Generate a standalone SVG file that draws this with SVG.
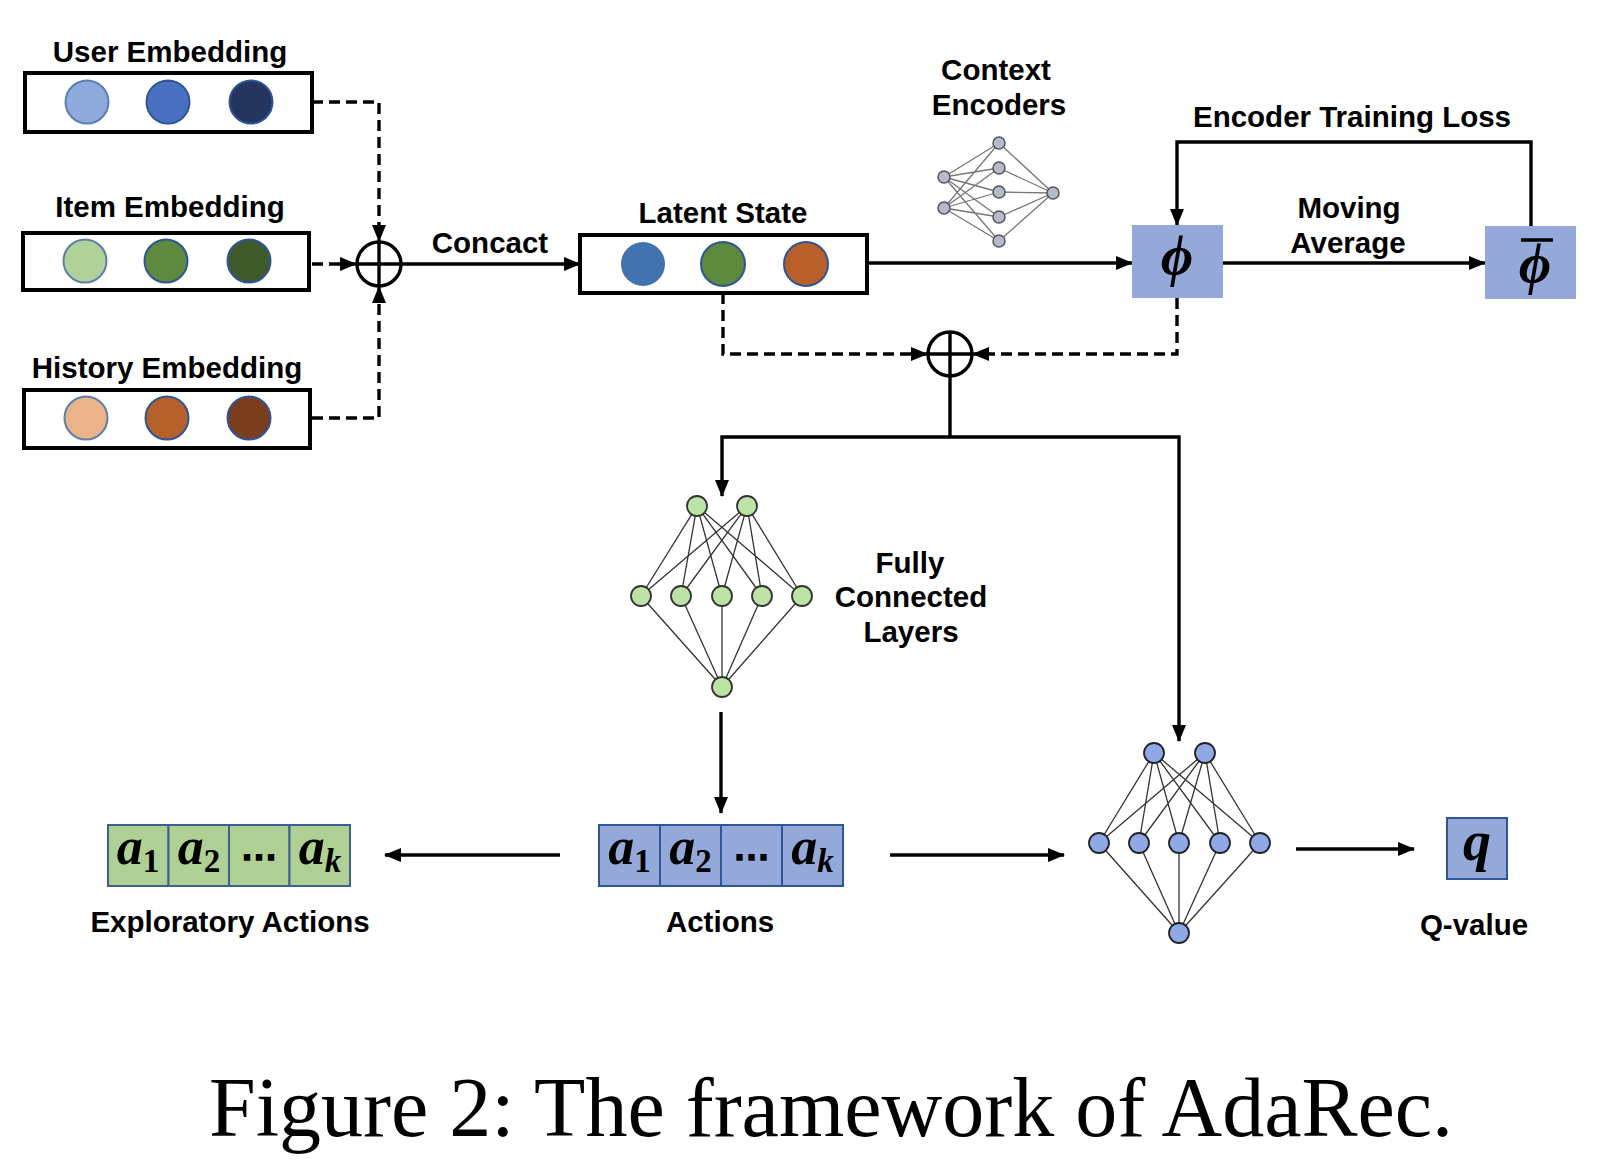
<svg xmlns="http://www.w3.org/2000/svg" width="1616" height="1174" viewBox="0 0 1616 1174">
<defs>
<marker id="ah" markerUnits="userSpaceOnUse" markerWidth="17" markerHeight="14" refX="16" refY="7" orient="auto">
<path d="M0,0 L17,7 L0,14 z" fill="#000"/>
</marker>
<style>
.lbl{font-family:"Liberation Sans",Arial,sans-serif;font-weight:bold;font-size:29.5px;fill:#000;text-anchor:middle}
.cap{font-family:"Liberation Serif","Times New Roman",serif;font-size:84px;fill:#000;text-anchor:middle}
.math{font-family:"Liberation Serif","DejaVu Serif",serif;font-weight:bold;font-style:italic;fill:#000;text-anchor:middle}
.sub{font-style:normal;font-size:33px}
.subi{font-style:italic;font-size:33px}
.dots{font-family:"DejaVu Sans",sans-serif;font-weight:bold;font-size:36px;fill:#000;text-anchor:middle}
.box{fill:#fff;stroke:#000;stroke-width:4}
.emb{stroke:#2F5597;stroke-width:2}
.solid{fill:none;stroke:#000;stroke-width:3.4;marker-end:url(#ah)}
.plain{fill:none;stroke:#000;stroke-width:3.4}
.dasha{fill:none;stroke:#000;stroke-width:3.4;stroke-dasharray:11 6;marker-end:url(#ah)}
.plus{fill:#fff;stroke:#000;stroke-width:3.4}
.phibox{fill:#94A9D9}
.cellb{fill:#94A9D9;stroke:#2F5597;stroke-width:2}
.cellg{fill:#AFD095;stroke:#3E5F8F;stroke-width:2}
.fcl{stroke:#333;stroke-width:1.3}
.fcg{fill:#BDE4A6;stroke:#333;stroke-width:1.8}
.fcb{fill:#8FA8E6;stroke:#222;stroke-width:1.8}
.cel{stroke:#777;stroke-width:1.3}
.cen{fill:#B5BBC9;stroke:#555;stroke-width:1.5}
</style>
</defs>
<rect width="1616" height="1174" fill="#fff"/>

<g id="connectors">
<path class="dasha" d="M312,102 H379 V241"/>
<path class="dasha" d="M312,264 H356"/>
<path class="dasha" d="M312,418 H379 V287"/>
<path class="solid" d="M401,264 H580"/>
<path class="solid" d="M867,263 H1132"/>
<path class="solid" d="M1223,263 H1485"/>
<path class="solid" d="M1531,226 V142 H1177 V225"/>
<path class="dasha" d="M723,293 V354 H927"/>
<path class="dasha" d="M1177,298 V354 H973"/>
<path class="plain" d="M950,376 V437"/>
<path class="solid" d="M950,437 H722 V496"/>
<path class="solid" d="M950,437 H1179 V741"/>
<path class="solid" d="M721,712 V813"/>
<path class="solid" d="M560,855 H385"/>
<path class="solid" d="M890,855 H1064"/>
<path class="solid" d="M1296,849 H1414"/>
</g>

<g id="user-embedding">
<text class="lbl" x="170" y="62">User Embedding</text>
<rect class="box" x="25" y="73" width="287" height="59"/>
<circle cx="87" cy="102" r="21.5" fill="#8FAADC" stroke="#5B7FAE" stroke-width="2"/>
<circle cx="168" cy="102" r="21.5" fill="#4A70C2" class="emb"/>
<circle cx="251" cy="102" r="21.5" fill="#24355F" class="emb"/>
</g>

<g id="item-embedding">
<text class="lbl" x="170" y="217">Item Embedding</text>
<rect class="box" x="23" y="233" width="286" height="57"/>
<circle cx="85" cy="261" r="21.5" fill="#B0D298" stroke="#5B7FAE" stroke-width="2"/>
<circle cx="166" cy="261" r="21.5" fill="#5D8A3E" class="emb"/>
<circle cx="249" cy="261" r="21.5" fill="#3F5A2B" class="emb"/>
</g>

<g id="history-embedding">
<text class="lbl" x="167" y="378">History Embedding</text>
<rect class="box" x="24" y="390" width="286" height="58"/>
<circle cx="86" cy="418" r="21.5" fill="#EAB38A" stroke="#5B7FAE" stroke-width="2"/>
<circle cx="167" cy="418" r="21.5" fill="#B8602B" class="emb"/>
<circle cx="249" cy="418" r="21.5" fill="#7A3E1C" class="emb"/>
</g>

<g id="concat-plus">
<circle class="plus" cx="379" cy="264" r="22"/>
<path class="plain" d="M357,264 H401 M379,242 V286"/>
<text class="lbl" x="490" y="253">Concact</text>
</g>

<g id="latent-state">
<text class="lbl" x="723" y="223">Latent State</text>
<rect class="box" x="580" y="235" width="287" height="58"/>
<circle cx="643" cy="264" r="22" fill="#4373AF"/>
<circle cx="723" cy="264" r="22" fill="#5E8A3E" class="emb"/>
<circle cx="806" cy="264" r="22" fill="#B95F2A" class="emb"/>
</g>

<g id="context-encoders">
<text class="lbl" x="996" y="80">Context</text>
<text class="lbl" x="999" y="115">Encoders</text>
<g>
<path class="cel" d="M944,177 L999,143 M944,177 L999,168 M944,177 L999,192 M944,177 L999,217 M944,177 L999,241 M944,208 L999,143 M944,208 L999,168 M944,208 L999,192 M944,208 L999,217 M944,208 L999,241 M999,143 L1053,193 M999,168 L1053,193 M999,192 L1053,193 M999,217 L1053,193 M999,241 L1053,193"/>
<circle class="cen" cx="944" cy="177" r="6"/>
<circle class="cen" cx="944" cy="208" r="6"/>
<circle class="cen" cx="999" cy="143" r="6"/>
<circle class="cen" cx="999" cy="168" r="6"/>
<circle class="cen" cx="999" cy="192" r="6"/>
<circle class="cen" cx="999" cy="217" r="6"/>
<circle class="cen" cx="999" cy="241" r="6"/>
<circle class="cen" cx="1053" cy="193" r="6"/>
</g>
</g>

<g id="phi">
<rect class="phibox" x="1132" y="225" width="91" height="73"/>
<text class="math" x="1177" y="275" font-size="56">ϕ</text>
</g>

<g id="phi-bar">
<rect class="phibox" x="1485" y="226" width="91" height="73"/>
<text class="math" x="1535" y="283" font-size="56">ϕ</text>
<path d="M1521,240 H1553" stroke="#000" stroke-width="3.5"/>
</g>

<g id="loss-labels">
<text class="lbl" x="1352" y="127">Encoder Training Loss</text>
<text class="lbl" x="1349" y="218">Moving</text>
<text class="lbl" x="1348" y="253">Average</text>
</g>

<g id="merge-plus">
<circle class="plus" cx="950" cy="354" r="22"/>
<path class="plain" d="M928,354 H972 M950,332 V376"/>
</g>

<g id="fully-connected">
<path class="fcl" d="M697,506 L641,596 M697,506 L681,596 M697,506 L722,596 M697,506 L762,596 M697,506 L802,596 M747,506 L641,596 M747,506 L681,596 M747,506 L722,596 M747,506 L762,596 M747,506 L802,596 M641,596 L722,687 M681,596 L722,687 M722,596 L722,687 M762,596 L722,687 M802,596 L722,687"/>
<circle class="fcg" cx="697" cy="506" r="10"/>
<circle class="fcg" cx="747" cy="506" r="10"/>
<circle class="fcg" cx="641" cy="596" r="10"/>
<circle class="fcg" cx="681" cy="596" r="10"/>
<circle class="fcg" cx="722" cy="596" r="10"/>
<circle class="fcg" cx="762" cy="596" r="10"/>
<circle class="fcg" cx="802" cy="596" r="10"/>
<circle class="fcg" cx="722" cy="687" r="10"/>
<text class="lbl" x="910" y="573">Fully</text>
<text class="lbl" x="911" y="607">Connected</text>
<text class="lbl" x="911" y="642">Layers</text>
</g>

<g id="actions">
<rect class="cellb" x="599" y="825" width="61" height="61"/>
<rect class="cellb" x="660" y="825" width="61" height="61"/>
<rect class="cellb" x="721" y="825" width="61" height="61"/>
<rect class="cellb" x="782" y="825" width="61" height="61"/>
<text class="math" x="629.5" y="864" font-size="52">a<tspan class="sub" dy="8">1</tspan></text>
<text class="math" x="690.5" y="864" font-size="52">a<tspan class="sub" dy="8">2</tspan></text>
<text class="dots" x="751.5" y="870">⋯</text>
<text class="math" x="812.5" y="864" font-size="52">a<tspan class="subi" dy="8">k</tspan></text>
<text class="lbl" x="720" y="932">Actions</text>
</g>

<g id="exploratory-actions">
<rect class="cellg" x="108" y="825" width="60.5" height="61"/>
<rect class="cellg" x="168.5" y="825" width="60.5" height="61"/>
<rect class="cellg" x="229" y="825" width="60.5" height="61"/>
<rect class="cellg" x="289.5" y="825" width="60.5" height="61"/>
<text class="math" x="138" y="864" font-size="52">a<tspan class="sub" dy="8">1</tspan></text>
<text class="math" x="199" y="864" font-size="52">a<tspan class="sub" dy="8">2</tspan></text>
<text class="dots" x="259" y="870">⋯</text>
<text class="math" x="320" y="864" font-size="52">a<tspan class="subi" dy="8">k</tspan></text>
<text class="lbl" x="230" y="932">Exploratory Actions</text>
</g>

<g id="q-network">
<path class="fcl" d="M1154,753 L1099,843 M1154,753 L1139,843 M1154,753 L1179,843 M1154,753 L1220,843 M1154,753 L1260,843 M1205,753 L1099,843 M1205,753 L1139,843 M1205,753 L1179,843 M1205,753 L1220,843 M1205,753 L1260,843 M1099,843 L1179,933 M1139,843 L1179,933 M1179,843 L1179,933 M1220,843 L1179,933 M1260,843 L1179,933"/>
<circle class="fcb" cx="1154" cy="753" r="10"/>
<circle class="fcb" cx="1205" cy="753" r="10"/>
<circle class="fcb" cx="1099" cy="843" r="10"/>
<circle class="fcb" cx="1139" cy="843" r="10"/>
<circle class="fcb" cx="1179" cy="843" r="10"/>
<circle class="fcb" cx="1220" cy="843" r="10"/>
<circle class="fcb" cx="1260" cy="843" r="10"/>
<circle class="fcb" cx="1179" cy="933" r="10"/>
</g>

<g id="q-value">
<rect class="cellb" x="1447" y="818" width="60" height="61"/>
<text class="math" x="1477" y="860" font-size="56">q</text>
<text class="lbl" x="1474" y="935">Q-value</text>
</g>

<g id="caption">
<text class="cap" x="831" y="1136">Figure 2: The framework of AdaRec.</text>
</g>
</svg>
